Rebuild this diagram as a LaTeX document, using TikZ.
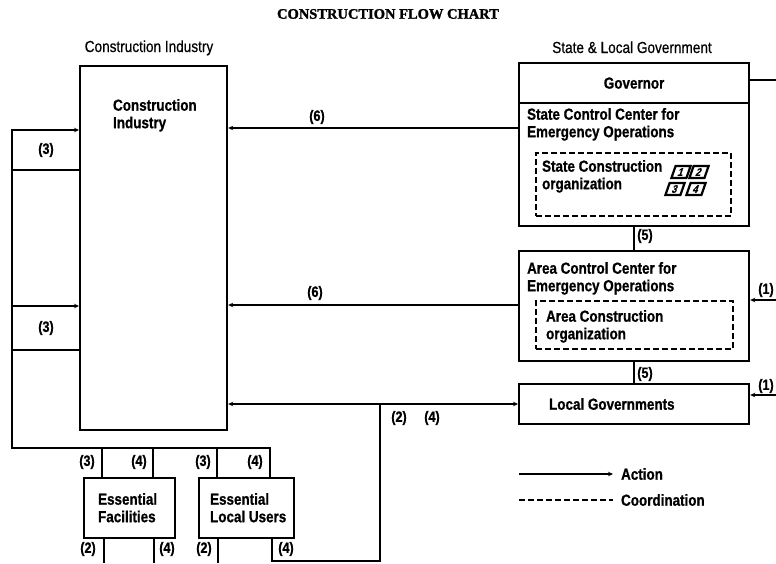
\documentclass[tikz,border=0pt]{standalone}
\usepackage{fontspec}
\setmainfont{Liberation Sans}[FakeStretch=0.85,FakeBold=0.6]
\newfontfamily\bnar{Liberation Sans Bold}[FakeStretch=0.84,FakeBold=0.8]
\newfontfamily\titlef{Liberation Serif Bold}[FakeBold=1.5]
\usetikzlibrary{arrows.meta}
\begin{document}
\begin{tikzpicture}[x=1pt,y=-1pt,
  line width=2.2pt,
  box/.style={draw, line width=2.2pt, rectangle, inner sep=0pt, anchor=north west},
  dbox/.style={draw, line width=1.9pt, dash pattern=on 6pt off 3pt, rectangle, inner sep=0pt, anchor=north west},
  btxt/.style={font=\bnar\fontsize{16}{17.5}\selectfont, align=left, inner sep=0pt},
  lbl/.style={font=\bnar\fontsize{15}{16}\selectfont, inner sep=0pt},
  hdr/.style={font=\fontsize{16}{18}\selectfont, inner sep=0pt},
  act/.style={-{Stealth[length=5pt,width=4.5pt]}},
  fn/.style={draw, line width=2.2pt, xslant=0.35, inner sep=0.5pt, minimum width=15pt, minimum height=12pt, font=\bnar\fontsize{11}{11}\selectfont}
]
\useasboundingbox (0,0) rectangle (776,563);
% title and headers
\node[font=\titlef\fontsize{14.5}{16}\selectfont, inner sep=0pt] (title) at (388,14) {CONSTRUCTION FLOW CHART};
\node[hdr, anchor=base] (hci) at (149,52) {Construction Industry};
\node[hdr, anchor=base] (hsg) at (632,53) {State \& Local Government};
% boxes
\node[box, minimum width=147pt, minimum height=364pt] (ci) at (79,65) {};
\node[btxt, anchor=north west] (citxt) at (112,98) {Construction\\Industry};
\node[box, minimum width=230pt, minimum height=40pt] (gov) at (518,62) {};
\node[btxt] (govtxt) at (gov.center) {Governor};
\node[box, minimum width=230pt, minimum height=123pt] (scc) at (518,102) {};
\node[btxt, anchor=north west] (scctxt) at (526,107) {State Control Center for\\Emergency Operations};
\node[dbox, minimum width=195pt, minimum height=63pt] (sdash) at (535,152) {};
\node[btxt, anchor=north west] (sdtxt) at (541,159) {State Construction\\organization};
\node[fn] (fn1) at (681,172) {1};
\node[fn] (fn2) at (699,172) {2};
\node[fn] (fn3) at (675,189) {3};
\node[fn] (fn4) at (696,189) {4};
\node[box, minimum width=230pt, minimum height=110pt] (acc) at (518,250) {};
\node[btxt, anchor=north west] (acctxt) at (526,261) {Area Control Center for\\Emergency Operations};
\node[dbox, minimum width=197pt, minimum height=48pt] (adash) at (535,300) {};
\node[btxt, anchor=north west] (adtxt) at (545,309) {Area Construction\\organization};
\node[box, minimum width=230pt, minimum height=40pt] (lg) at (518,383) {};
\node[btxt, anchor=west] (lgtxt) at (548,404) {Local Governments};
\node[box, minimum width=91pt, minimum height=60pt] (ef) at (83,477) {};
\node[btxt, anchor=north west] (eftxt) at (97,492) {Essential\\Facilities};
\node[box, minimum width=95pt, minimum height=60pt] (elu) at (198,477) {};
\node[btxt, anchor=north west] (elutxt) at (209,492) {Essential\\Local Users};
% coordinates
\coordinate (r6a) at (0,128);
\coordinate (r6b) at (0,305);
\coordinate (r3a) at (12,130);
\coordinate (r3b) at (12,170);
\coordinate (r3c) at (12,306);
\coordinate (r3d) at (12,350);
\coordinate (lbot) at (12,448);
\coordinate (t3a) at (102,448);
\coordinate (t4a) at (153,448);
\coordinate (t3b) at (217,448);
\coordinate (t4b) at (270,448);
\coordinate (j24) at (380,404);
\coordinate (bot) at (380,561);
\coordinate (e4) at (272,561);
\coordinate (f2) at (104,563);
\coordinate (f4) at (154,563);
\coordinate (e2) at (218,563);
\coordinate (r1a) at (776,300);
\coordinate (r1b) at (776,395);
\coordinate (rg) at (776,80);
% connectors
\draw[act] (scc.west |- r6a) -- (ci.east |- r6a);
\draw[act] (acc.west |- r6b) -- (ci.east |- r6b);
\draw (gov.east |- rg) -- (rg);
\draw[act] (r1a) -- (acc.east |- r1a);
\draw[act] (r1b) -- (lg.east |- r1b);
\draw (scc.south) -- (acc.north);
\draw (acc.south) -- (lg.north);
\draw[act] (j24) -- (ci.east |- j24);
\draw[act] (j24) -- (lg.west |- j24);
\draw (j24) -- (bot) -- (e4) -- (elu.south -| e4);
\draw (ef.south -| f2) -- (f2);
\draw (ef.south -| f4) -- (f4);
\draw (elu.south -| e2) -- (e2);
\draw[{Stealth[length=5pt,width=4.5pt]}-] (ci.west |- r3a) -- (r3a) -- (lbot) -- (t4b) -- (elu.north -| t4b);
\draw (ci.west |- r3b) -- (r3b);
\draw[{Stealth[length=5pt,width=4.5pt]}-] (ci.west |- r3c) -- (r3c);
\draw (ci.west |- r3d) -- (r3d);
\draw (t3a) -- (ef.north -| t3a);
\draw (t4a) -- (ef.north -| t4a);
\draw (t3b) -- (elu.north -| t3b);
% labels
\node[lbl] (l6a) at (317,117) {(6)};
\node[lbl] (l6b) at (315,293) {(6)};
\node[lbl] (l3a) at (46,150) {(3)};
\node[lbl] (l3b) at (46,328) {(3)};
\node[lbl] (l5a) at (645,236) {(5)};
\node[lbl] (l5b) at (645,374) {(5)};
\node[lbl] (l1a) at (766,290) {(1)};
\node[lbl] (l1b) at (766,386) {(1)};
\node[lbl] (l2m) at (399,418) {(2)};
\node[lbl] (l4m) at (432,418) {(4)};
\node[lbl] (b3a) at (87,462) {(3)};
\node[lbl] (b4a) at (139,462) {(4)};
\node[lbl] (b3b) at (203,462) {(3)};
\node[lbl] (b4b) at (255,462) {(4)};
\node[lbl] (c2a) at (88,549) {(2)};
\node[lbl] (c4a) at (167,549) {(4)};
\node[lbl] (c2b) at (204,549) {(2)};
\node[lbl] (c4b) at (286,549) {(4)};
% legend
\coordinate (la1) at (519,474);
\coordinate (la2) at (613,474);
\coordinate (lc1) at (519,500);
\coordinate (lc2) at (613,500);
\draw[act] (la1) -- (la2);
\draw[line width=1.9pt, dash pattern=on 6pt off 3pt] (lc1) -- (lc2);
\node[btxt, anchor=west] (lact) at (620,474) {Action};
\node[btxt, anchor=west] (lcoord) at (620,500) {Coordination};
\end{tikzpicture}
\end{document}
